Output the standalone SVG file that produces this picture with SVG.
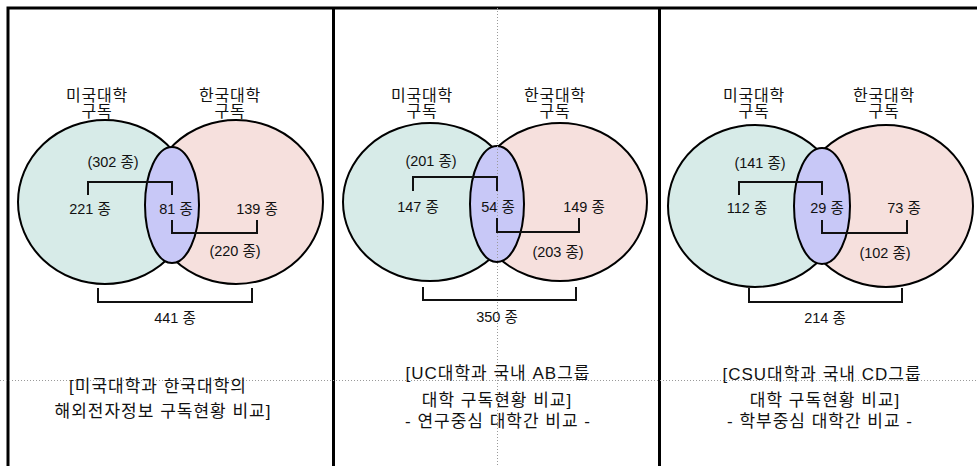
<svg xmlns="http://www.w3.org/2000/svg" width="977" height="466" viewBox="0 0 977 466">
<style>
text{font-family:"Liberation Sans","Noto Sans CJK KR",sans-serif;fill:#111;text-anchor:middle}
.hd{font-size:16px;letter-spacing:0.8px}
.nm{font-size:14.5px}
.cap{font-size:17px;letter-spacing:1px}
.us{fill:#d7ebe8;stroke:#000;stroke-width:2}
.kr{fill:#f6e0dd;stroke:#000;stroke-width:2}
.both{fill:#c8c8f7;stroke:#000;stroke-width:2}
.br{fill:none;stroke:#111;stroke-width:2}
.frame{stroke:#000;stroke-width:3;fill:none}
.dot{stroke:#9a9a9a;stroke-width:1;stroke-dasharray:1 2;fill:none}
</style>
<rect width="977" height="466" fill="#fff"/>
<g id="frame">
<path class="frame" d="M8,466 V8 H977"/>
<path class="frame" d="M333.5,8 V466"/>
<path class="frame" d="M659.5,8 V466"/>
</g>
<g id="panel1">
<g id="p1-us"><ellipse class="us" cx="105" cy="202" rx="87" ry="82"/></g>
<g id="p1-kr"><ellipse class="kr" cx="236" cy="202" rx="87" ry="82"/></g>
<g id="p1-both"><ellipse class="both" cx="172" cy="205" rx="27" ry="58"/></g>
</g>
<g id="panel2">
<g id="p2-us"><ellipse class="us" cx="430" cy="202" rx="87" ry="79"/></g>
<g id="p2-kr"><ellipse class="kr" cx="560" cy="202" rx="87" ry="79"/></g>
<g id="p2-both"><ellipse class="both" cx="497" cy="204" rx="27" ry="58"/></g>
</g>
<g id="panel3">
<g id="p3-us"><ellipse class="us" cx="755" cy="206" rx="87" ry="81"/></g>
<g id="p3-kr"><ellipse class="kr" cx="886" cy="206" rx="87" ry="81"/></g>
<g id="p3-both"><ellipse class="both" cx="822" cy="206" rx="28" ry="58"/></g>
</g>
<g id="guides">
<path class="dot" d="M497.5,8 V466"/>
<path class="dot" d="M0,380.5 H977"/>
</g>
<g id="connectors">
<path class="br" d="M88,195 V182 H172 V195"/>
<path class="br" d="M172,220 V233 H257 V220"/>
<path class="br" d="M98,288 V302 H252 V288"/>
<path class="br" d="M413,191 V177 H497 V191"/>
<path class="br" d="M497,218 V232 H579 V218"/>
<path class="br" d="M423,287 V300 H576 V287"/>
<path class="br" d="M739,195 V182 H822 V195"/>
<path class="br" d="M822,220 V233 H907 V220"/>
<path class="br" d="M749,288 V302 H902 V288"/>
</g>
<g id="labels1">
<text class="hd" x="97" y="101">미국대학</text>
<text class="hd" x="97" y="117">구독</text>
<text class="hd" x="230" y="101">한국대학</text>
<text class="hd" x="230" y="117">구독</text>
<text class="nm" x="113" y="167">(302 종)</text>
<text class="nm" x="90" y="214">221 종</text>
<text class="nm" x="176" y="214">81 종</text>
<text class="nm" x="257" y="214">139 종</text>
<text class="nm" x="235" y="256">(220 종)</text>
<text class="nm" x="175" y="323">441 종</text>
<text class="cap" x="158" y="392">[미국대학과 한국대학의</text>
<text class="cap" x="163" y="417">해외전자정보 구독현황 비교]</text>
</g>
<g id="labels2">
<text class="hd" x="422" y="101">미국대학</text>
<text class="hd" x="422" y="117">구독</text>
<text class="hd" x="555" y="101">한국대학</text>
<text class="hd" x="555" y="117">구독</text>
<text class="nm" x="431" y="166">(201 종)</text>
<text class="nm" x="418" y="212">147 종</text>
<text class="nm" x="498" y="212">54 종</text>
<text class="nm" x="584" y="212">149 종</text>
<text class="nm" x="558" y="257">(203 종)</text>
<text class="nm" x="497" y="322">350 종</text>
<text class="cap" x="498" y="379">[UC대학과 국내 AB그룹</text>
<text class="cap" x="497" y="406">대학 구독현황 비교]</text>
<text class="cap" x="498" y="427">- 연구중심 대학간 비교 -</text>
</g>
<g id="labels3">
<text class="hd" x="754" y="101">미국대학</text>
<text class="hd" x="754" y="117">구독</text>
<text class="hd" x="884" y="101">한국대학</text>
<text class="hd" x="884" y="117">구독</text>
<text class="nm" x="760" y="168">(141 종)</text>
<text class="nm" x="747" y="213">112 종</text>
<text class="nm" x="827" y="213">29 종</text>
<text class="nm" x="904" y="213">73 종</text>
<text class="nm" x="885" y="258">(102 종)</text>
<text class="nm" x="825" y="323">214 종</text>
<text class="cap" x="822" y="380">[CSU대학과 국내 CD그룹</text>
<text class="cap" x="825" y="406">대학 구독현황 비교]</text>
<text class="cap" x="820" y="427">- 학부중심 대학간 비교 -</text>
</g>
</svg>
